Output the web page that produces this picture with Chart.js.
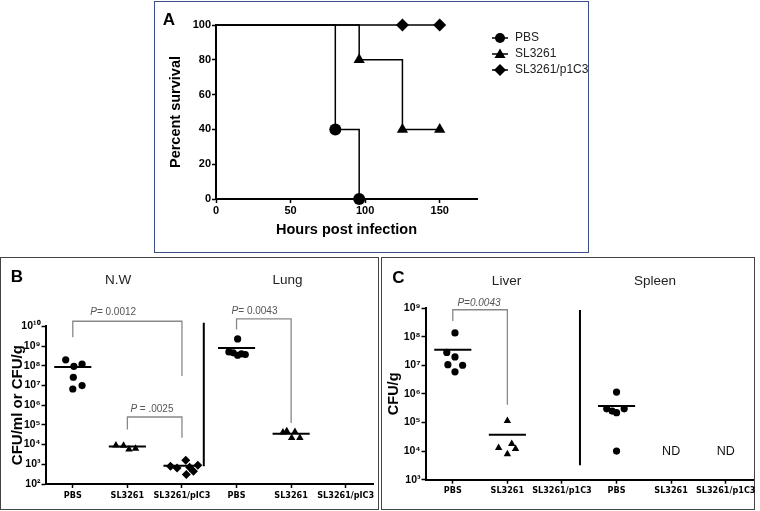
<!DOCTYPE html>
<html>
<head>
<meta charset="utf-8">
<script src="https://cdn.jsdelivr.net/npm/chart.js@4.4.1/dist/chart.umd.min.js"></script>
<style>
  html, body { margin: 0; padding: 0; background: #fff; }
  #wrap { position: relative; width: 760px; height: 511px; overflow: hidden; }
  .box { position: absolute; box-sizing: border-box; }
  canvas { position: absolute; left: 0; top: 0; }
</style>
</head>
<body>
<div id="wrap">
  <div class="box" style="left:154px;top:1px;width:435px;height:252px;border:1.5px solid #3b4f88"></div>
  <div class="box" style="left:0;top:257px;width:379px;height:253px;border:1.5px solid #444"></div>
  <div class="box" style="left:381px;top:257px;width:374px;height:253px;border:1.5px solid #444"></div>
  <canvas id="chartA" width="760" height="511"></canvas>
  <canvas id="chartB" width="760" height="511"></canvas>
  <canvas id="chartC" width="760" height="511"></canvas>
</div>
<script>
// ---- panel A: survival (%) at event times (hours)
const seriesA = ['PBS', 'SL3261', 'SL3261/p1C3'];
const hoursPbs = [0, 80, 96];
const survPbs = [100, 40, 0];
const hoursSl = [0, 96, 125, 150];
const survSl = [100, 80, 40, 40];
const hoursPic = [0, 125, 150];
const survPic = [100, 100, 100];
const xTicksA = [0, 50, 100, 150];
const yTicksA = [0, 20, 40, 60, 80, 100];

// ---- panel B: CFU in nasal wash and lung
const catsB = ['PBS', 'SL3261', 'SL3261/pIC3', 'PBS', 'SL3261', 'SL3261/pIC3'];
const nwPbs = [2.0e8, 9.3e7, 1.2e8, 2.6e7, 6.6e6, 9.8e6];
const nwSl = [9.1e3, 8.9e3, 5.8e3, 6.2e3];
const nwPic = [7.9e2, 6.5e2, 1.6e3, 3.0e2, 7.0e2, 4.4e2, 8.9e2];
const lungPbs = [2.3e9, 5.0e8, 4.5e8, 3.4e8, 4.0e8, 3.7e8];
const lungSl = [4.2e4, 4.8e4, 2.2e4, 4.4e4, 2.2e4];
const mediansB = [8.7e7, 8.1e3, 8.5e2, 7.9e8, 3.5e4, null];
const yTicksB = [1e2, 1e3, 1e4, 1e5, 1e6, 1e7, 1e8, 1e9, 1e10];
// horizontal scatter of the dots, in category widths
const nwPbsDx = [-0.13, 0.02, 0.17, 0.01, 0, 0.17];
const nwSlDx = [-0.21, -0.07, 0.03, 0.15];
const nwPicDx = [-0.21, -0.09, 0.07, 0.08, 0.14, 0.21, 0.29];
const lungPbsDx = [0.02, -0.14, -0.06, 0.02, 0.09, 0.16];
const lungSlDx = [-0.15, -0.08, 0.01, 0.07, 0.16];

// ---- panel C: CFU in liver and spleen
const catsC = ['PBS', 'SL3261', 'SL3261/p1C3', 'PBS', 'SL3261', 'SL3261/p1C3'];
const liverPbs = [1.35e8, 2.8e7, 1.95e7, 1.0e7, 1.05e7, 5.9e6];
const liverSl = [1.15e5, 1.3e4, 1.8e4, 1.2e4, 7.9e3];
const spleenPbs = [1.15e6, 3.0e5, 2.5e5, 2.2e5, 3.0e5, 1.0e4];
const mediansC = [3.5e7, 3.7e4, null, 3.8e5, null, null];
const notDetectedC = [5, 6];
const yTicksC = [1e3, 1e4, 1e5, 1e6, 1e7, 1e8, 1e9];
const liverPbsDx = [0.04, -0.11, 0.04, 0.18, -0.09, 0.04];
const liverSlDx = [0, -0.16, 0.08, 0.15, 0];
const spleenPbsDx = [0, -0.18, -0.08, 0, 0.14, 0];

// brackets: [x of left leg, x of right leg], [left foot, top, right foot]
const bracketsB = [
  {xs: [1, 3], ys: [2.8e9, 1.8e10, 3.0e7], label: '= 0.0012', lx: 1.74, ly: 5.4e10},
  {xs: [2, 3], ys: [5.8e4, 2.5e5, 2.2e4], label: ' = .0025', lx: 2.45, ly: 5.9e5},
  {xs: [4, 5], ys: [6.8e9, 2.4e10, 1.25e5], label: '= 0.0043', lx: 4.33, ly: 5.9e10}
];
const bracketsC = [
  {xs: [1, 2], ys: [3.5e8, 8.7e8, 4.2e5], label: '=0.0043', lx: 1.48, ly: 1.5e9}
];

const F = "'Liberation Sans', Arial, sans-serif";
const FN = "'Liberation Sans Narrow', 'Arial Narrow', 'DejaVu Sans Condensed', sans-serif";

function sup(n) {
  const m = {'0': '\u2070', '1': '\u00b9', '2': '\u00b2', '3': '\u00b3', '4': '\u2074',
             '5': '\u2075', '6': '\u2076', '7': '\u2077', '8': '\u2078', '9': '\u2079'};
  return String(n).split('').map(c => m[c]).join('');
}

function notes(items) {
  return {
    id: 'notes',
    afterDraw(chart) {
      const ctx = chart.ctx, sx = chart.scales.x, sy = chart.scales.y;
      ctx.save();
      ctx.textBaseline = 'middle';
      ctx.textAlign = 'left';
      items.forEach(t => {
        const px = t.px ? t.px[0] : sx.getPixelForValue(t.x);
        const py = t.px ? t.px[1] : sy.getPixelForValue(t.y);
        let total = 0;
        t.parts.forEach(p => { ctx.font = p[1]; total += ctx.measureText(p[0]).width; });
        let cx = px - total / 2;
        t.parts.forEach(p => {
          ctx.font = p[1];
          ctx.fillStyle = p[2] || '#222';
          ctx.fillText(p[0], cx, py);
          cx += ctx.measureText(p[0]).width;
        });
      });
      ctx.restore();
    }
  };
}

const axisLine = {
  grid: {drawOnChartArea: false, tickLength: 4, tickColor: '#000', tickWidth: 1.5},
  border: {color: '#000', width: 2}
};

function logY(ticks, title, size, width) {
  return Object.assign({
    type: 'logarithmic', min: ticks[0], max: ticks[ticks.length - 1],
    afterBuildTicks: s => { s.ticks = ticks.map(v => ({value: v})); },
    afterFit: s => { s.width = width; },
    ticks: {
      callback: v => '10' + sup(Math.round(Math.log10(v))),
      font: {family: F, size: 10.5, weight: 'bold'}, color: '#000', padding: 1, autoSkip: false
    },
    title: {display: true, text: title, color: '#000', padding: 0,
            font: {family: F, size: size, weight: 'bold'}}
  }, axisLine);
}

function catX(cats) {
  return Object.assign({
    type: 'linear', min: 0.5, max: cats.length + 0.5,
    afterBuildTicks: s => { s.ticks = cats.map((c, i) => ({value: i + 1})); },
    afterFit: s => { s.height = 20; },
    ticks: {
      callback: v => cats[v - 1],
      font: {family: FN, size: 9, weight: 'bold'}, color: '#000', padding: 2,
      autoSkip: false, maxRotation: 0
    }
  }, axisLine);
}

function dots(g, vals, dx, style, r) {
  return {
    type: 'scatter', data: vals.map((v, i) => ({x: g + dx[i], y: v})),
    pointStyle: style, pointRadius: r, backgroundColor: '#000', borderColor: '#000',
    borderWidth: 0, clip: false
  };
}
function path(xs, ys, color, w) {
  return {
    type: 'line', data: xs.map((x, i) => ({x: x, y: ys[i]})),
    borderColor: color, borderWidth: w, pointRadius: 0, tension: 0, clip: false
  };
}
function medianLines(meds) {
  const out = [];
  meds.forEach((m, i) => {
    if (m !== null) out.push(path([i + 1 - 0.34, i + 1 + 0.34], [m, m], '#000', 2));
  });
  return out;
}
function bracketLines(list) {
  return list.map(b => path([b.xs[0], b.xs[0], b.xs[1], b.xs[1]],
                            [b.ys[0], b.ys[1], b.ys[1], b.ys[2]], '#888', 1.3));
}
function bracketText(list, italicAll) {
  const pf = 'italic 10px ' + F;
  return list.map(b => ({x: b.lx, y: b.ly,
    parts: [['P', pf, '#555'], [b.label, (italicAll ? 'italic ' : '') + '10px ' + F, '#555']]}));
}

const base = {
  responsive: false, animation: false, devicePixelRatio: 1, events: []
};

// ---------- Panel A ----------
function glyph(style) {
  const c = document.createElement('canvas');
  c.width = 32; c.height = 14;
  const g = c.getContext('2d');
  const cx = 21, cy = 7;
  g.strokeStyle = '#000'; g.lineWidth = 1.5;
  g.beginPath(); g.moveTo(cx - 8, cy); g.lineTo(cx + 8, cy); g.stroke();
  g.fillStyle = '#000';
  g.beginPath();
  if (style === 'circle') g.arc(cx, cy, 5, 0, Math.PI * 2);
  if (style === 'triangle') { g.moveTo(cx, cy - 5.5); g.lineTo(cx + 5.5, cy + 4); g.lineTo(cx - 5.5, cy + 4); g.closePath(); }
  if (style === 'rectRot') { g.moveTo(cx - 6, cy); g.lineTo(cx, cy - 6); g.lineTo(cx + 6, cy); g.lineTo(cx, cy + 6); g.closePath(); }
  g.fill();
  return c;
}
const stylesA = ['circle', 'triangle', 'rectRot'];
const glyphsA = stylesA.map(glyph);

function survival(name, hours, surv, style, r) {
  return {
    label: name, data: hours.map((h, i) => ({x: h, y: surv[i]})),
    stepped: true, borderColor: '#000', borderWidth: 1.5,
    pointStyle: style, pointRadius: c => (c.dataIndex === 0 ? 0 : r),
    pointBackgroundColor: '#000', pointBorderWidth: 0, clip: false
  };
}

new Chart(document.getElementById('chartA'), {
  type: 'line',
  data: {datasets: [
    survival(seriesA[0], hoursPbs, survPbs, 'circle', 6),
    survival(seriesA[1], hoursSl, survSl, 'triangle', 6.5),
    survival(seriesA[2], hoursPic, survPic, 'rectRot', 6.5)
  ]},
  options: Object.assign({}, base, {
    layout: {padding: {left: 167.3, top: 25, right: 168, bottom: 272.3}},
    scales: {
      x: Object.assign({
        type: 'linear', min: 0, max: 175,
        afterBuildTicks: s => { s.ticks = xTicksA.map(v => ({value: v})); },
        afterFit: s => { s.height = 39.7; },
        ticks: {font: {family: F, size: 11, weight: 'bold'}, color: '#000', padding: 1, maxRotation: 0},
        title: {display: true, text: 'Hours post infection', color: '#000', padding: 0,
                font: {family: F, size: 14.5, weight: 'bold'}}
      }, axisLine),
      y: Object.assign({
        type: 'linear', min: 0, max: 100,
        afterBuildTicks: s => { s.ticks = yTicksA.map(v => ({value: v})); },
        afterFit: s => { s.width = 48.7; },
        ticks: {font: {family: F, size: 11, weight: 'bold'}, color: '#000', padding: 1},
        title: {display: true, text: 'Percent survival', color: '#000', padding: 0,
                font: {family: F, size: 14.5, weight: 'bold'}}
      }, axisLine)
    },
    plugins: {
      tooltip: {enabled: false},
      legend: {
        display: true, position: 'right', align: 'start', maxWidth: 115,
        title: {display: true, text: '', font: {size: 2}, padding: {top: 0, bottom: 0.6}},
        labels: {
          usePointStyle: true, pointStyleWidth: 28, padding: 4,
          font: {family: F, size: 12}, color: '#222',
          generateLabels: () => seriesA.map((name, i) => ({
            text: name, pointStyle: glyphsA[i], fillStyle: '#000', strokeStyle: '#000',
            lineWidth: 0, hidden: false, datasetIndex: i, fontColor: '#222'
          }))
        }
      }
    }
  }),
  plugins: [notes([{px: [169, 20], parts: [['A', 'bold 17px ' + F, '#000']]}])]
});

// ---------- Panel B ----------
new Chart(document.getElementById('chartB'), {
  type: 'scatter',
  data: {datasets: [].concat(
    [dots(1, nwPbs, nwPbsDx, 'circle', 3.6),
     dots(2, nwSl, nwSlDx, 'triangle', 4.3),
     dots(3, nwPic, nwPicDx, 'rectRot', 4.5),
     dots(4, lungPbs, lungPbsDx, 'circle', 3.6),
     dots(5, lungSl, lungSlDx, 'triangle', 4.3)],
    medianLines(mediansB),
    bracketLines(bracketsB),
    [path([3.4, 3.4], [1.5e10, 8e2], '#000', 2)]
  )},
  options: Object.assign({}, base, {
    layout: {padding: {left: 9.3, top: 326.3, right: 387, bottom: 7}},
    scales: {x: catX(catsB), y: logY(yTicksB, 'CFU/ml or CFU/g', 15, 36.2)},
    plugins: {legend: {display: false}, tooltip: {enabled: false}}
  }),
  plugins: [notes([
    {px: [17, 277], parts: [['B', 'bold 17px ' + F, '#000']]},
    {px: [118, 280], parts: [['N.W', '13.5px ' + F, '#222']]},
    {px: [287.5, 280], parts: [['Lung', '13.5px ' + F, '#222']]}
  ].concat(bracketText(bracketsB, false)))]
});

// ---------- Panel C ----------
new Chart(document.getElementById('chartC'), {
  type: 'scatter',
  data: {datasets: [].concat(
    [dots(1, liverPbs, liverPbsDx, 'circle', 3.6),
     dots(2, liverSl, liverSlDx, 'triangle', 4.3),
     dots(4, spleenPbs, spleenPbsDx, 'circle', 3.6)],
    medianLines(mediansC),
    bracketLines(bracketsC),
    [path([3.33, 3.33], [8.5e8, 3.2e3], '#000', 2)]
  )},
  options: Object.assign({}, base, {
    layout: {padding: {left: 384.8, top: 308, right: 7, bottom: 11.3}},
    scales: {x: catX(catsC), y: logY(yTicksC, 'CFU/g', 14.5, 40.7)},
    plugins: {legend: {display: false}, tooltip: {enabled: false}}
  }),
  plugins: [notes([
    {px: [398.5, 278], parts: [['C', 'bold 17px ' + F, '#000']]},
    {px: [506.5, 281.5], parts: [['Liver', '13.5px ' + F, '#222']]},
    {px: [655, 281.5], parts: [['Spleen', '13.5px ' + F, '#222']]}
  ].concat(bracketText(bracketsC, true))
   .concat(notDetectedC.map(g => ({x: g, y: 1e4, parts: [['ND', '12.5px ' + F, '#111']]}))))]
});
</script>
</body>
</html>
